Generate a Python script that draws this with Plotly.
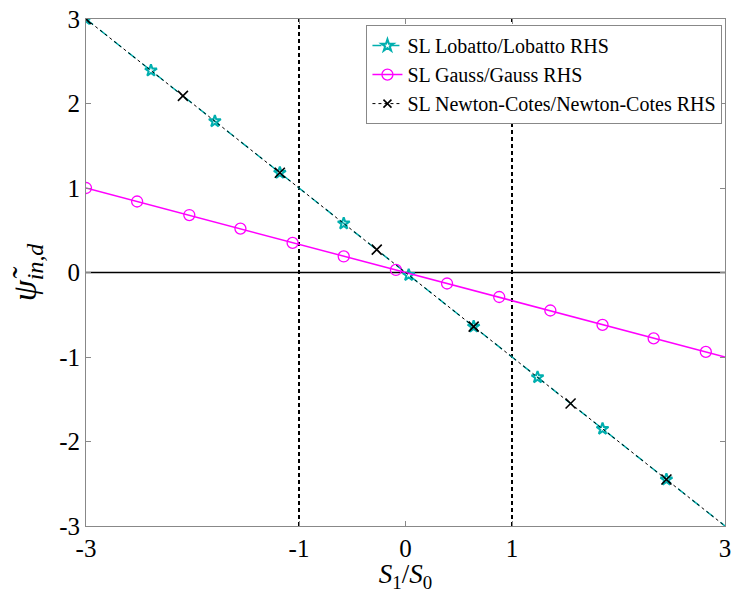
import plotly.graph_objects as go

# Lines (full extent)
line_x = [-3, 3]
lobatto_line_y = [3, -3]
gauss_line_y = [1, -1]
nc_line_y = [3, -3]

# Marker positions
lobatto_x = [-3, -2.39, -1.79, -1.18, -0.58, 0.03, 0.64, 1.24, 1.85, 2.45]
lobatto_y = [3, 2.39, 1.79, 1.18, 0.58, -0.03, -0.64, -1.24, -1.85, -2.45]

gauss_x = [-3, -2.52, -2.03, -1.55, -1.06, -0.58, -0.09, 0.39, 0.88, 1.36, 1.85, 2.33, 2.82]
gauss_y = [1, 0.84, 0.68, 0.52, 0.35, 0.19, 0.03, -0.13, -0.29, -0.45, -0.62, -0.78, -0.94]

nc_x = [-3, -2.09, -1.18, -0.27, 0.64, 1.55, 2.45]
nc_y = [3, 2.09, 1.18, 0.27, -0.64, -1.55, -2.45]

x_ticks = [-3, -1, 0, 1, 3]
y_ticks = [-3, -2, -1, 0, 1, 2, 3]
vlines = [-1, 1]

TEAL = "#00AFAF"
MAG = "#FF00FF"
FONT = "Liberation Serif"

fig = go.Figure()

# vertical dashed lines and zero line
for xv in vlines:
    fig.add_shape(type="line", x0=xv, x1=xv, y0=-3, y1=3, xref="x", yref="y",
                  line=dict(color="black", width=2, dash="4px,3px"), layer="below")
fig.add_shape(type="line", x0=-3, x1=3, y0=0, y1=0, xref="x", yref="y",
              line=dict(color="black", width=1.3), layer="below")

# Lobatto
fig.add_trace(go.Scatter(x=line_x, y=lobatto_line_y, mode="lines",
                         line=dict(color=TEAL, width=1.5, dash="dash"),
                         showlegend=False, hoverinfo="skip"))
fig.add_trace(go.Scatter(x=lobatto_x, y=lobatto_y, mode="markers",
                         marker=dict(symbol="star-open", size=9, color=TEAL,
                                     line=dict(width=2, color=TEAL)),
                         showlegend=False))
fig.add_trace(go.Scatter(x=[None], y=[None], mode="lines+markers",
                         name="SL Lobatto/Lobatto RHS",
                         line=dict(color=TEAL, width=1.5, dash="dash"),
                         marker=dict(symbol="star-open", size=9, color=TEAL,
                                     line=dict(width=2, color=TEAL))))

# Gauss
fig.add_trace(go.Scatter(x=line_x, y=gauss_line_y, mode="lines",
                         line=dict(color=MAG, width=1.5),
                         showlegend=False, hoverinfo="skip"))
fig.add_trace(go.Scatter(x=gauss_x, y=gauss_y, mode="markers",
                         marker=dict(symbol="circle-open", size=11, color=MAG,
                                     line=dict(width=1.3, color=MAG)),
                         showlegend=False))
fig.add_trace(go.Scatter(x=[None], y=[None], mode="lines+markers",
                         name="SL Gauss/Gauss RHS",
                         line=dict(color=MAG, width=1.5),
                         marker=dict(symbol="circle-open", size=11, color=MAG,
                                     line=dict(width=1.3, color=MAG))))

# Newton-Cotes
fig.add_trace(go.Scatter(x=line_x, y=nc_line_y, mode="lines",
                         line=dict(color="black", width=1, dash="dot"),
                         showlegend=False, hoverinfo="skip"))
fig.add_trace(go.Scatter(x=nc_x, y=nc_y, mode="markers",
                         marker=dict(symbol="x-thin-open", size=10, color="black",
                                     line=dict(width=1.6, color="black")),
                         showlegend=False))
fig.add_trace(go.Scatter(x=[None], y=[None], mode="lines+markers",
                         name="SL Newton-Cotes/Newton-Cotes RHS",
                         line=dict(color="black", width=1, dash="dot"),
                         marker=dict(symbol="x-thin-open", size=8, color="black",
                                     line=dict(width=1.6, color="black"))))

axis_common = dict(showgrid=False, zeroline=False, showline=True, linecolor="#888888",
                   linewidth=1, mirror="ticks", ticks="inside", ticklen=5,
                   tickcolor="#888888",
                   tickfont=dict(family=FONT, size=25, color="black"))

fig.update_xaxes(range=[-3, 3], tickvals=x_ticks, ticktext=[str(v) for v in x_ticks],
                 title=dict(text="<i>S</i><sub>1</sub>/<i>S</i><sub>0</sub>",
                            font=dict(family=FONT, size=27, color="black"), standoff=5),
                 **axis_common)
fig.update_yaxes(range=[-3, 3], tickvals=y_ticks, ticktext=[str(v) for v in y_ticks],
                 title=dict(text="<i>\u03c8\u0303</i><sub><i>in,d</i></sub>",
                            font=dict(family=FONT, size=34, color="black"), standoff=12),
                 **axis_common)

fig.update_layout(
    width=737, height=593,
    margin=dict(l=86, r=6, t=16, b=67),
    paper_bgcolor="white", plot_bgcolor="white",
    font=dict(family=FONT, color="black"),
    legend=dict(x=0.996, y=0.988, xanchor="right", yanchor="top",
                bgcolor="white", bordercolor="#888888", borderwidth=1,
                font=dict(family=FONT, size=20, color="black"),
                tracegroupgap=0, itemwidth=30),
)

fig.write_html("out.html")
